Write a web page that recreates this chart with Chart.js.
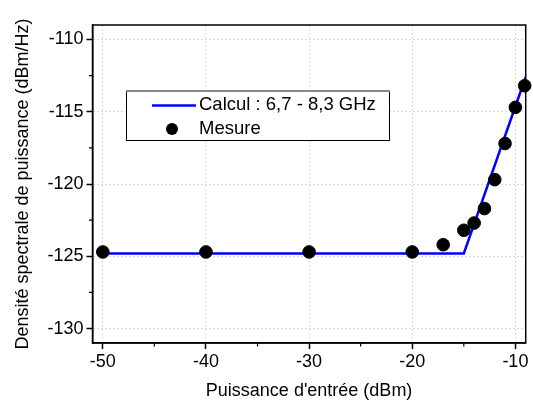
<!DOCTYPE html>
<html>
<head>
<meta charset="utf-8">
<script src="https://cdn.jsdelivr.net/npm/chart.js@4.4.0/dist/chart.umd.min.js"></script>
<style>
  html, body { margin: 0; padding: 0; background: #fff; }
  #wrap { width: 533px; height: 408px; }
</style>
</head>
<body>
<div id="wrap"><canvas id="graphe"></canvas></div>
<script>
// Données
const calculX = [-50, -15, -9];
const calculY = [-124.8, -124.8, -112.6];
const mesureX = [-50, -40, -30, -20, -17, -15, -14, -13, -12, -11, -10, -9.1];
const mesureY = [-124.7, -124.7, -124.7, -124.7, -124.2, -123.2, -122.7, -121.7, -119.7, -117.2, -114.7, -113.2];
const ticksX = [-50, -45, -40, -35, -30, -25, -20, -15, -10];
const ticksY = [-130, -127.5, -125, -122.5, -120, -117.5, -115, -112.5, -110];

const police = "'Liberation Sans', Arial, sans-serif";
const estMajeur = v => Math.abs(v % 10) < 1e-6;
const estMajeurY = v => Math.abs(v % 5) < 1e-6;

// cadre + petites graduations + légende
const cadrePlugin = {
    id: 'cadre',
    afterDraw(chart) {
        const { ctx, chartArea: a, scales } = chart;
        ctx.save();
        ctx.strokeStyle = '#000';
        ctx.lineWidth = 1.5;
        ctx.strokeRect(a.left, a.top, a.right - a.left, a.bottom - a.top);

        // graduations mineures
        ctx.lineWidth = 1.2;
        ctx.beginPath();
        ticksX.filter(v => !estMajeur(v)).forEach(v => {
            const x = scales.x.getPixelForValue(v);
            ctx.moveTo(x, a.bottom);
            ctx.lineTo(x, a.bottom + 3.5);
        });
        ticksY.filter(v => !estMajeurY(v)).forEach(v => {
            const y = scales.y.getPixelForValue(v);
            ctx.moveTo(a.left, y);
            ctx.lineTo(a.left - 3.5, y);
        });
        ctx.stroke();

        // légende
        const bx = 126, by = 91, bw = 263, bh = 49;
        ctx.fillStyle = '#fff';
        ctx.fillRect(bx, by, bw, bh);
        ctx.lineWidth = 1;
        ctx.strokeStyle = '#000';
        ctx.strokeRect(bx + 0.5, by + 0.5, bw, bh);
        ctx.strokeStyle = '#888';
        ctx.lineWidth = 2;
        ctx.beginPath();
        ctx.moveTo(bx, by);
        ctx.lineTo(bx + bw + 1, by);
        ctx.stroke();

        ctx.strokeStyle = '#0000ff';
        ctx.lineWidth = 2.5;
        ctx.beginPath();
        ctx.moveTo(152, 105.5);
        ctx.lineTo(196, 105.5);
        ctx.stroke();
        ctx.fillStyle = '#000';
        ctx.beginPath();
        ctx.arc(172, 129, 6, 0, Math.PI * 2);
        ctx.fill();

        ctx.font = '18.5px ' + police;
        ctx.textBaseline = 'middle';
        ctx.fillText(chart.data.datasets[0].label, 199, 105);
        ctx.fillText(chart.data.datasets[1].label, 199, 129);
        ctx.restore();
    }
};

new Chart(document.getElementById('graphe').getContext('2d'), {
    type: 'scatter',
    data: {
        datasets: [
            {
                label: 'Calcul : 6,7 - 8,3 GHz',
                data: calculX.map((x, i) => ({ x, y: calculY[i] })),
                showLine: true,
                borderColor: '#0000ff',
                borderWidth: 2.5,
                pointRadius: 0,
                order: 2
            },
            {
                label: 'Mesure',
                data: mesureX.map((x, i) => ({ x, y: mesureY[i] })),
                backgroundColor: '#000',
                borderColor: '#000',
                pointRadius: 6.3,
                pointHoverRadius: 6.3,
                order: 1,
                clip: false
            }
        ]
    },
    options: {
        responsive: true,
        maintainAspectRatio: false,
        animation: false,
        layout: { padding: { top: 25, right: 5, left: 0, bottom: 0 } },
        plugins: {
            legend: { display: false },
            tooltip: { enabled: false }
        },
        scales: {
            x: {
                type: 'linear',
                min: -51,
                max: -9,
                afterBuildTicks: s => { s.ticks = ticksX.map(v => ({ value: v })); },
                afterFit: s => { s.height = 65; },
                ticks: {
                    color: '#000',
                    font: { family: police, size: 18 },
                    padding: 2,
                    maxRotation: 0,
                    autoSkip: false,
                    callback: v => estMajeur(v) ? String(v) : ''
                },
                grid: {
                    color: c => c.tick && estMajeur(c.tick.value) ? '#cfcfcf' : 'rgba(0,0,0,0)',
                    tickColor: c => c.tick && estMajeur(c.tick.value) ? '#000' : 'rgba(0,0,0,0)',
                    tickLength: 6,
                    lineWidth: 1,
                    tickWidth: 1.5
                },
                border: { display: true, color: '#000', width: 1.5, dash: [1.5, 2.5] },
                title: {
                    display: true,
                    text: "Puissance d'entrée (dBm)",
                    color: '#000',
                    font: { family: police, size: 18 },
                    padding: { top: 0, bottom: 6 }
                }
            },
            y: {
                type: 'linear',
                min: -131,
                max: -109,
                afterBuildTicks: s => { s.ticks = ticksY.map(v => ({ value: v })); },
                afterFit: s => { s.width = 92.5; },
                ticks: {
                    color: '#000',
                    font: { family: police, size: 18 },
                    padding: 3,
                    autoSkip: false,
                    callback: v => estMajeurY(v) ? String(v) : ''
                },
                grid: {
                    color: c => c.tick && estMajeurY(c.tick.value) ? '#cfcfcf' : 'rgba(0,0,0,0)',
                    tickColor: c => c.tick && estMajeurY(c.tick.value) ? '#000' : 'rgba(0,0,0,0)',
                    tickLength: 6,
                    lineWidth: 1,
                    tickWidth: 1.5
                },
                border: { display: true, color: '#000', width: 1.5, dash: [1.5, 2.5] },
                title: {
                    display: true,
                    text: 'Densité spectrale de puissance (dBm/Hz)',
                    color: '#000',
                    font: { family: police, size: 18 },
                    padding: { top: 12, bottom: 0 }
                }
            }
        }
    },
    plugins: [cadrePlugin]
});
</script>
</body>
</html>
